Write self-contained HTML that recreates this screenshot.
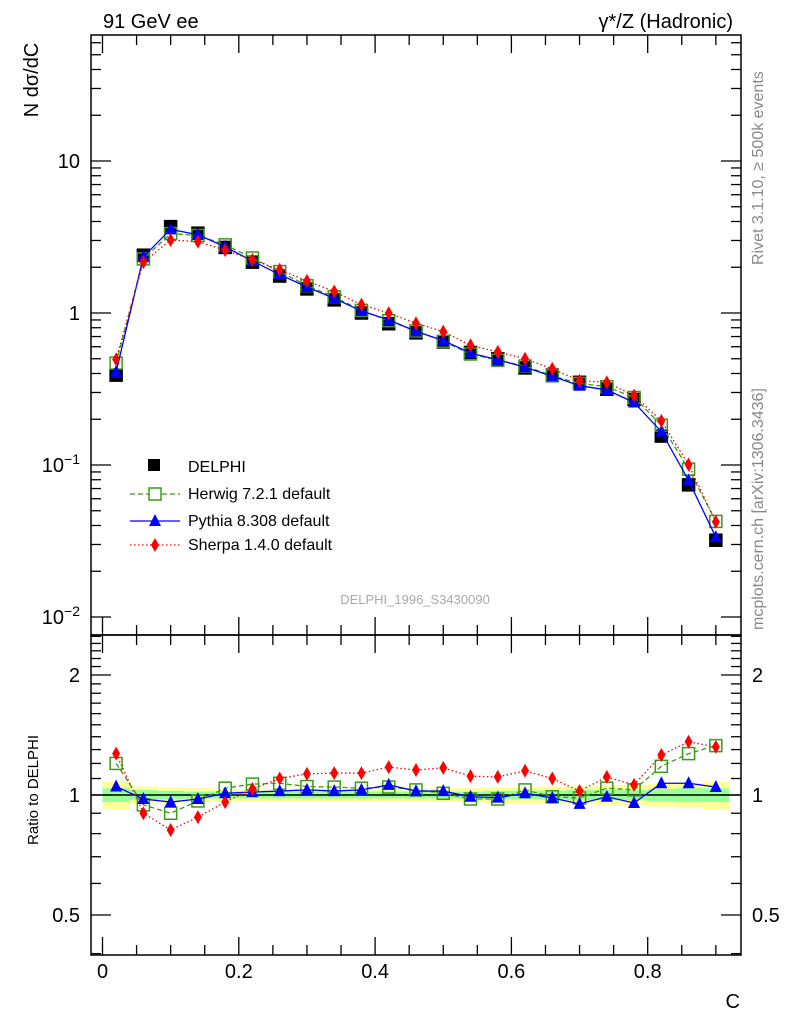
<!DOCTYPE html>
<html><head><meta charset="utf-8"><style>
body{margin:0;background:#fff}
svg{display:block;font-family:"Liberation Sans",sans-serif}
</style></head><body>
<svg id="chart" width="786" height="1024" xmlns="http://www.w3.org/2000/svg">
<text x="103" y="28" font-size="20">91 GeV ee</text>
<text x="733" y="28" font-size="20" text-anchor="end">γ*/Z (Hadronic)</text>
<text transform="translate(38,80) rotate(-90)" font-size="20" text-anchor="middle">N dσ/dC</text>
<text transform="translate(38,790) rotate(-90)" font-size="15" text-anchor="middle">Ratio to DELPHI</text>
<text x="740" y="1008" font-size="20" text-anchor="end">C</text>
<text transform="translate(763,265) rotate(-90)" font-size="16" fill="#888">Rivet 3.1.10, ≥ 500k events</text>
<text transform="translate(763,630) rotate(-90)" font-size="16" fill="#888">mcplots.cern.ch [arXiv:1306.3436]</text>
<text x="415" y="604" font-size="13" fill="#aaa" text-anchor="middle">DELPHI_1996_S3430090</text>
<g id="bands"></g><g id="axes"></g><g id="series"></g>
<g>
<rect x="148" y="459" width="12" height="12" fill="#000"/>
<text x="188" y="472" font-size="16">DELPHI</text>
<line x1="130" y1="494" x2="180" y2="494" stroke="#3a9a1a" stroke-width="1.3" stroke-dasharray="5,3"/>
<rect x="149" y="488" width="12" height="12" fill="#fff" stroke="#3a9a1a" stroke-width="1.5"/>
<text x="188" y="499" font-size="16">Herwig 7.2.1 default</text>
<line x1="130" y1="521" x2="180" y2="521" stroke="#0000ff" stroke-width="1.3"/>
<path d="M155,514 L161,526 L149,526 Z" fill="#0000ff"/>
<text x="188" y="526" font-size="16">Pythia 8.308 default</text>
<line x1="130" y1="545" x2="180" y2="545" stroke="#ff0000" stroke-width="1.3" stroke-dasharray="1.5,2.5"/>
<path d="M155,538 L159,545 L155,552 L151,545 Z" fill="#ff0000"/>
<text x="188" y="550" font-size="16">Sherpa 1.4.0 default</text>
</g>
</svg>
<script>
const xCenters=[0.02,0.06,0.10,0.14,0.18,0.22,0.26,0.30,0.34,0.38,0.42,0.46,0.50,0.54,0.58,0.62,0.66,0.70,0.74,0.78,0.82,0.86,0.90];
const delphi=[0.39,2.4,3.7,3.35,2.7,2.16,1.75,1.44,1.22,1.0,0.85,0.74,0.645,0.55,0.50,0.435,0.39,0.35,0.315,0.27,0.155,0.074,0.032];
const herwigRatio=[1.20,0.945,0.90,0.966,1.04,1.065,1.07,1.05,1.047,1.04,1.047,1.03,1.01,0.977,0.977,1.03,0.99,0.983,1.04,1.03,1.18,1.27,1.33];
const pythiaRatio=[1.05,0.977,0.96,0.977,1.01,1.017,1.023,1.03,1.023,1.03,1.06,1.023,1.023,0.99,0.985,1.01,0.983,0.95,0.99,0.955,1.07,1.07,1.047];
const sherpaRatio=[1.27,0.90,0.817,0.88,0.96,1.035,1.10,1.13,1.135,1.135,1.175,1.155,1.17,1.115,1.11,1.15,1.10,1.023,1.11,1.06,1.26,1.36,1.32];
const statErr=[0.04,0.03,0.025,0.02,0.02,0.02,0.02,0.02,0.02,0.02,0.02,0.02,0.02,0.02,0.025,0.025,0.025,0.03,0.03,0.03,0.035,0.04,0.04];
const totErr=[0.08,0.05,0.045,0.04,0.035,0.035,0.035,0.035,0.035,0.035,0.035,0.035,0.04,0.04,0.045,0.045,0.05,0.05,0.055,0.06,0.065,0.07,0.08];
const xTicks=[0,0.2,0.4,0.6,0.8];
const xTickLabels=["0","0.2","0.4","0.6","0.8"];
const ratioTicks=[0.5,1,2];
const ratioTickLabels=["0.5","1","2"];

const NS="http://www.w3.org/2000/svg";
const L=91,R=741,T=35,M=635,B=955;
const X=v=>102.5+v*681.5;
const Y=v=>313-152*Math.log10(v);
const YR=v=>795-120*Math.log2(v);
function mk(parent,tag,attrs){const e=document.createElementNS(NS,tag);for(const k in attrs)e.setAttribute(k,attrs[k]);document.getElementById(parent).appendChild(e);return e;}

for(let i=0;i<xCenters.length;i++){
 const x0=X(xCenters[i]-0.02),x1=X(xCenters[i]+0.02);
 const y=mk('bands','rect',{x:x0,y:YR(1+totErr[i]),width:x1-x0,height:YR(1-totErr[i])-YR(1+totErr[i]),fill:'#ffff99'});
 
 
 const g=mk('bands','rect',{x:x0,y:YR(1+statErr[i]),width:x1-x0,height:YR(1-statErr[i])-YR(1+statErr[i]),fill:'#99ff99'});
 
 
}
const f1=mk('axes','rect',{x:L,y:T,width:R-L,height:M-T,fill:'none',stroke:'#000','stroke-width':1.5});


const f2=mk('axes','rect',{x:L,y:M,width:R-L,height:B-M,fill:'none',stroke:'#000','stroke-width':1.5});


mk('axes','line',{x1:L,x2:R,y1:YR(1),y2:YR(1),stroke:'#000','stroke-width':1.5});
for(let k=0;k<=18;k++){
 const v=k*0.05;const x=X(v);if(x>R-2)continue;
 const major=k%4==0;const len=major?18:10;
 [[M,M-len],[M,M+len],[B,B-len],[T,T+len]].forEach(p=>mk('axes','line',{x1:x,x2:x,y1:p[0],y2:p[1],stroke:'#000','stroke-width':1.3}));
}
xTicks.forEach((v,i)=>{const t=mk('axes','text',{x:X(v),y:978,'font-size':20,'text-anchor':'middle'});t.textContent=xTickLabels[i];
 
 });
for(let e=-2;e<=1;e++){for(let m=1;m<=9;m++){const v=m*Math.pow(10,e);const y=Y(v);if(y<T||y>M)continue;const len=m==1?20:10;
 mk('axes','line',{x1:L,x2:L+len,y1:y,y2:y,stroke:'#000','stroke-width':1.3});mk('axes','line',{x1:R,x2:R-len,y1:y,y2:y,stroke:'#000','stroke-width':1.3});}}
[[10,"10"],[1,"1"]].forEach(p=>{const t=mk('axes','text',{x:80,y:Y(p[0])+7,'font-size':20,'text-anchor':'end'});t.textContent=p[1];
 
 });
[[0.1,"−1"],[0.01,"−2"]].forEach(p=>{const t=mk('axes','text',{x:80,y:Y(p[0])+7,'font-size':20,'text-anchor':'end'});t.innerHTML='10<tspan dy="-8" font-size="14">'+p[1]+'</tspan>';
 
 });
[0.4,0.5,0.6,0.7,0.8,0.9,1,1.1,1.2,1.3,1.4,1.5,1.6,1.7,1.8,1.9,2,2.1,2.2,2.3,2.4,2.5].forEach(v=>{const y=YR(v);const maj=[0.5,1,2].includes(v);const len=maj?20:10;
 mk('axes','line',{x1:L,x2:L+len,y1:y,y2:y,stroke:'#000','stroke-width':1.3});mk('axes','line',{x1:R,x2:R-len,y1:y,y2:y,stroke:'#000','stroke-width':1.3});});
ratioTicks.forEach((v,i)=>{[[80,'end'],[752,'start']].forEach(p=>{const t=mk('axes','text',{x:p[0],y:YR(v)+7,'font-size':20,'text-anchor':p[1]});t.textContent=ratioTickLabels[i];
 
 });});

function line(pts,color,dash,name){const e=mk('series','polyline',{points:pts.map(p=>p.join(',')).join(' '),fill:'none',stroke:color,'stroke-width':1.3,'stroke-dasharray':dash});
 
 }
function sq(x,y,fill,name){const e=mk('series','rect',{x:x-6,y:y-6,width:12,height:12,fill:fill?'#000':'#fff','fill-opacity':fill?1:0,stroke:fill?'#000':'#3a9a1a','stroke-width':1.5});
 
 }
function tri(x,y,name){const e=mk('series','path',{d:`M${x},${y-7} L${x+6},${y+5} L${x-6},${y+5} Z`,fill:'#0000ff'});
 
 }
function dia(x,y,name){const e=mk('series','path',{d:`M${x},${y-7} L${x+4},${y} L${x},${y+7} L${x-4},${y} Z`,fill:'#ff0000'});
 
 }

const hw=xCenters.map((x,i)=>[X(x),Y(delphi[i]*herwigRatio[i])]);
const py=xCenters.map((x,i)=>[X(x),Y(delphi[i]*pythiaRatio[i])]);
const sh=xCenters.map((x,i)=>[X(x),Y(delphi[i]*sherpaRatio[i])]);
xCenters.forEach((x,i)=>sq(X(x),Y(delphi[i]),true,'delphi-point'));
line(hw,'#3a9a1a','5,3','herwig-line');hw.forEach(p=>sq(p[0],p[1],false,'herwig-point'));
line(py,'#0000ff','','pythia-line');py.forEach(p=>tri(p[0],p[1],'pythia-point'));
line(sh,'#ff0000','1.5,2.5','sherpa-line');sh.forEach(p=>dia(p[0],p[1],'sherpa-point'));

const hr=xCenters.map((x,i)=>[X(x),YR(herwigRatio[i])]);
const pr=xCenters.map((x,i)=>[X(x),YR(pythiaRatio[i])]);
const sr=xCenters.map((x,i)=>[X(x),YR(sherpaRatio[i])]);
line(hr,'#3a9a1a','5,3','herwig-ratio-line');hr.forEach(p=>sq(p[0],p[1],false,'herwig-ratio-point'));
line(pr,'#0000ff','','pythia-ratio-line');pr.forEach(p=>tri(p[0],p[1],'pythia-ratio-point'));
line(sr,'#ff0000','1.5,2.5','sherpa-ratio-line');sr.forEach(p=>dia(p[0],p[1],'sherpa-ratio-point'));
</script>
</body></html>
